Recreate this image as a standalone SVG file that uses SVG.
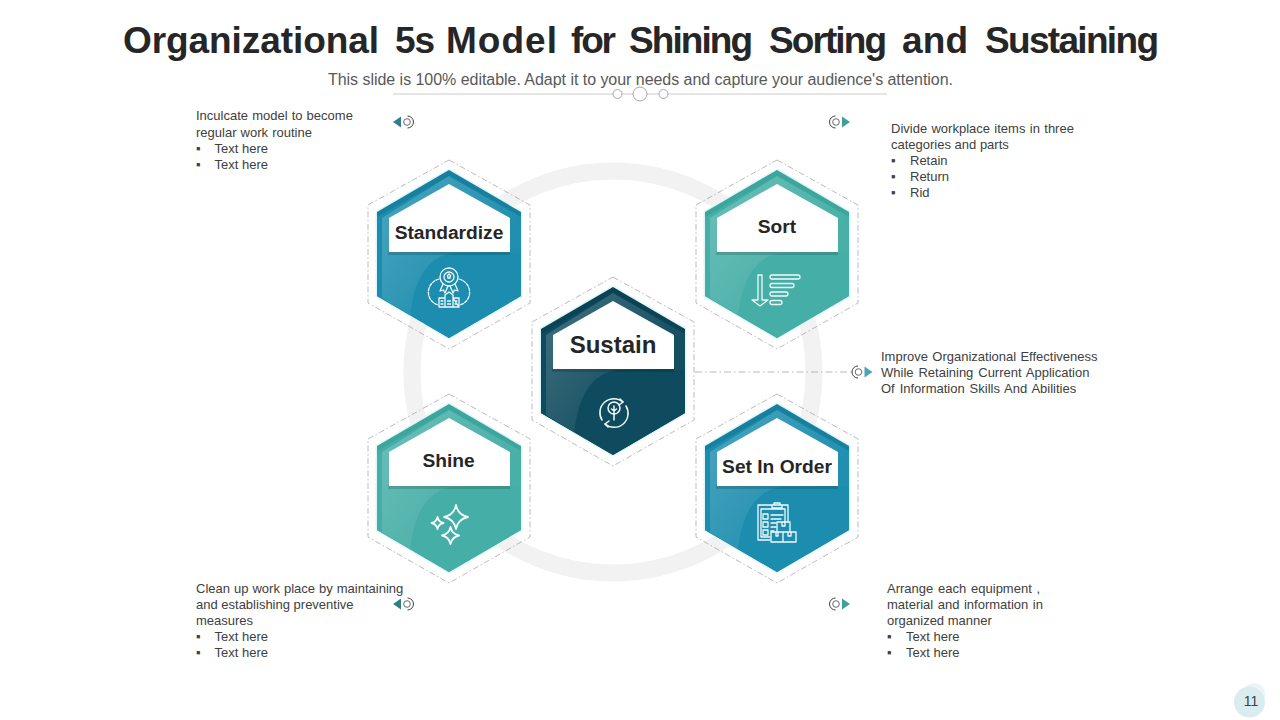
<svg xmlns="http://www.w3.org/2000/svg" width="1280" height="720" viewBox="0 0 1280 720">
<style>
text{font-family:"Liberation Sans",Arial,sans-serif}
.title{font-size:37px;font-weight:700;fill:#262626}
.sub{font-size:16px;fill:#595959;text-anchor:middle}
.body{font-size:13px;fill:#404040}
.lab{font-size:19.200px;font-weight:700;fill:#262626;text-anchor:middle}
.ic{fill:none;stroke:#f2fbfb;stroke-width:1.3;stroke-linecap:round;stroke-linejoin:round}
.dash{fill:none;stroke:#a9a9a9;stroke-width:.8;stroke-dasharray:6 2.5 1.5 2.5}
.halo{stroke:#dff6f8;stroke-width:3;stroke-linejoin:round}
.num{font-size:14px;fill:#404040;text-anchor:middle}
</style>
<defs>
<path id="hexa" d="M0,-84L72,-42V42L0,84L-72,42V-42Z"/>
<path id="inner" d="M0,-78L72,-37V42L0,84L-72,42V-37Z"/>
<path id="outline" d="M0,-94L81,-49V49L0,95L-81,49V-49Z"/>
<path id="glare" d="M0,-78L72,-37V-1H6Q-32,2-39,61L-67,44V-36Z"/>
<linearGradient id="gl" x1="0" y1="0.1" x2="0.75" y2="0.65"><stop offset="0" stop-color="#fff" stop-opacity=".2"/><stop offset="1" stop-color="#fff" stop-opacity=".02"/></linearGradient>
<g id="card">
<use href="#outline" class="dash"/>
<use href="#hexa" class="halo"/>
</g>
<g id="face">
<use href="#glare" fill="url(#gl)"/>
<rect x="-61" y="-3" width="122" height="4" fill="#000" opacity=".15"/>
<path d="M0,-70L61,-36V-2H-60V-36Z" fill="#fff"/>
</g>
<g id="tip"><circle r="3.300" fill="none" stroke="#595959" stroke-width=".9"/><path d="M.5,-6A6,6 0 0 1 .5,6" fill="none" stroke="#404040" stroke-width="1"/></g>
<path id="tri" d="M-14,0L-6,-5.500V5.500Z"/>
</defs>
<rect width="1280" height="720" fill="#fff"/>
<circle cx="613" cy="372" r="201" fill="none" stroke="#f2f2f2" stroke-width="17"/>

<g id="header">
<text class="title" y="53"><tspan x="123" textLength="256">Organizational</tspan> <tspan x="395" textLength="40">5s</tspan> <tspan x="446" textLength="111">Model</tspan> <tspan x="571" textLength="45">for</tspan> <tspan x="629" textLength="124">Shining</tspan> <tspan x="769" textLength="118">Sorting</tspan> <tspan x="902" textLength="66">and</tspan> <tspan x="985" textLength="174">Sustaining</tspan></text>
<text class="sub" x="640.500" y="85" textLength="625">This slide is 100% editable. Adapt it to your needs and capture your audience's attention.</text>
<path d="M393,94H887" stroke="#bfbfbf" stroke-width=".8"/>
<g fill="#fff" stroke="#a6a6a6"><circle cx="617.500" cy="94" r="4.500"/><circle cx="640" cy="94" r="7"/><circle cx="663.500" cy="94" r="4.500"/></g>
</g>

<g id="connectors">
<path d="M695,372H853" fill="none" stroke="#a6a6a6" stroke-width=".8" stroke-dasharray="7 3 1.500 3"/>
<g transform="translate(407,122)"><use href="#tip"/><use href="#tri" fill="#2f7d92"/></g>
<g transform="translate(836,122) scale(-1,1)"><use href="#tip"/><use href="#tri" fill="#3f9f9b"/></g>
<g transform="translate(858.500,372) scale(-1,1)"><use href="#tip"/><use href="#tri" fill="#4fa3b8"/></g>
<g transform="translate(407,604)"><use href="#tip"/><use href="#tri" fill="#2e7f85"/></g>
<g transform="translate(836,604) scale(-1,1)"><use href="#tip"/><use href="#tri" fill="#3f9f9b"/></g>
</g>

<g id="node-standardize" transform="translate(449,254)">
<use href="#card"/><use href="#hexa" fill="#17809f"/><use href="#inner" fill="#1c8dae"/><use href="#face"/>
<text class="lab" y="-15.500">Standardize</text>
<g class="ic" transform="translate(0,23)">
<circle r="9"/><circle r="5"/><path d="M-1.500,-1.500L0,-3L1.500,-1.500L1,1H-1Z"/>
<path d="M-6,7L-9,14L-5.500,13L-4,16L-1,9M6,7L9,14L5.500,13L4,16L1,9"/>
<path d="M-10,2C-24,6-24,24-11,28M10,2C24,6,24,24,11,28" stroke-dasharray="3 1.500"/>
<path d="M-4,30V18L0,15L4,18V30M-10,30V21H-4M4,21H10V30ZM-10,30H10M-1.500,24H1.500M-1.500,27H1.500M-8,24H-6M6,24H8M-8,27H-6M6,27H8"/>
</g>
</g>

<g id="node-sort" transform="translate(777,254)">
<use href="#card"/><use href="#hexa" fill="#3ca69e"/><use href="#inner" fill="#45aea6"/><use href="#face"/>
<text class="lab" y="-21.500">Sort</text>
<g class="ic">
<path d="M-19,21V46H-25L-17,52L-9,46H-15V21Z"/>
<rect x="-7" y="21" width="30" height="4" rx="2"/><rect x="-7" y="29.500" width="24" height="4" rx="2"/><rect x="-7" y="38" width="18" height="4" rx="2"/><rect x="-7" y="46.500" width="12" height="4" rx="2"/>
</g>
</g>

<g id="node-sustain" transform="translate(613,371)">
<use href="#card"/><use href="#hexa" fill="#0b4356"/><use href="#inner" fill="#0f4b5e"/><use href="#face"/>
<text class="lab" y="-18" style="font-size:24px">Sustain</text>
<g class="ic" transform="translate(1,42)" style="stroke-width:1.500">
<path d="M-12,7A14,14 0 0 1 9,-11M12,-7A14,14 0 0 1 -9,11"/>
<path d="M6,-14L9,-11L5,-8M-6,14L-9,11L-5,8"/>
<circle cy="-5" r="6"/><path d="M0,-7V7M-2.500,-4L0,-2L2.500,-4"/>
</g>
</g>

<g id="node-shine" transform="translate(449,488)">
<use href="#card"/><use href="#hexa" fill="#3ca69e"/><use href="#inner" fill="#45aea6"/><use href="#face"/>
<text class="lab" x="-.5" y="-21.500">Shine</text>
<g class="ic" style="stroke-width:1.800">
<path d="M7,17Q9,27,19,29Q9,31,7,41Q5,31,-5,29Q5,27,7,17Z"/>
<path d="M-11.500,29Q-10.500,34,-5.500,35Q-10.500,36,-11.500,41Q-12.500,36,-17.500,35Q-12.500,34,-11.500,29Z"/>
<path d="M1.500,39Q3,46,10,47.500Q3,49,1.500,56Q0,49,-7,47.500Q0,46,1.500,39Z"/>
</g>
</g>

<g id="node-set-in-order" transform="translate(777,488)">
<use href="#card"/><use href="#hexa" fill="#17809f"/><use href="#inner" fill="#1c8dae"/><use href="#face"/>
<text class="lab" y="-15.500">Set In Order</text>
<g class="ic">
<path d="M-7,52H-19V17H11V34M-5,17V20H5V17M-3,17V15H3V17"/>
<path d="M-16,21V49H-7M8,21V34M-16,21H8"/>
<path d="M-14,26H-9V31H-14ZM-14,34H-9V39H-14ZM-14,42H-9V47H-14ZM-6,27H6M-6,31H4M-6,35H-1M-6,39H-1M-6,43H-3"/>
<path d="M0,34H13V44H0ZM-6,44H6V54H-6ZM6,44H19V54H6ZM5,34V38H8V34M-1,44V48H1V44M11,44V48H14V44"/>
</g>
</g>

<g id="note-standardize" class="body">
<text x="196" y="120" word-spacing=".5">Inculcate model to become</text>
<text x="196" y="137" word-spacing=".5">regular work routine</text>
<text x="196" y="153">▪</text><text x="214.500" y="153">Text here</text>
<text x="196" y="169">▪</text><text x="214.500" y="169">Text here</text>
</g>
<g id="note-sort" class="body">
<text x="891" y="133" word-spacing=".75">Divide workplace items in three</text>
<text x="891" y="149">categories and parts</text>
<text x="891" y="165">▪</text><text x="910" y="165">Retain</text>
<text x="891" y="181">▪</text><text x="910" y="181">Return</text>
<text x="891" y="197">▪</text><text x="910" y="197">Rid</text>
</g>
<g id="note-sustain" class="body">
<text x="881" y="361" word-spacing=".7">Improve Organizational Effectiveness</text>
<text x="881" y="377" word-spacing="1.300">While Retaining Current Application</text>
<text x="881" y="393" word-spacing="1.300">Of Information Skills And Abilities</text>
</g>
<g id="note-shine" class="body">
<text x="196" y="593" word-spacing=".4">Clean up work place by maintaining</text>
<text x="196" y="609">and establishing preventive</text>
<text x="196" y="625">measures</text>
<text x="196" y="641">▪</text><text x="214.500" y="641">Text here</text>
<text x="196" y="657">▪</text><text x="214.500" y="657">Text here</text>
</g>
<g id="note-set-in-order" class="body">
<text x="887" y="593" word-spacing="1.200">Arrange each equipment ,</text>
<text x="887" y="609" word-spacing=".9">material and information in</text>
<text x="887" y="625">organized manner</text>
<text x="887" y="641">▪</text><text x="906" y="641">Text here</text>
<text x="887" y="657">▪</text><text x="906" y="657">Text here</text>
</g>

<g id="page-number">
<circle cx="1254" cy="694" r="11" fill="#eaf5f6"/><circle cx="1249.500" cy="702" r="15.500" fill="#d9ecf0"/>
<text class="num" x="1251" y="706">11</text>
</g>
</svg>
